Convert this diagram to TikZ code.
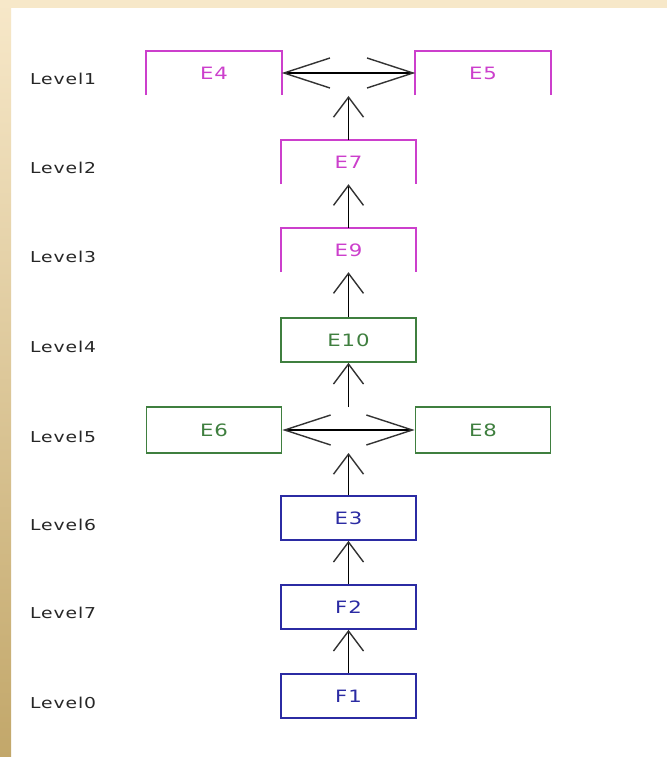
\documentclass[tikz,border=0pt]{standalone}
\usepackage{fontspec}
\setmainfont{DejaVu Sans}
\newfontfamily\boxfont[FakeStretch=1.25,LetterSpace=6]{DejaVu Sans}
\usetikzlibrary{arrows.meta}

\definecolor{bandlight}{HTML}{F7E8C9}
\definecolor{banddark}{HTML}{C2A76A}
\definecolor{lvmag}{HTML}{CC3FCC}
\definecolor{lvgreen}{HTML}{3F7F3F}
\definecolor{lvblue}{HTML}{2B2BA3}

\begin{document}
\begin{tikzpicture}[x=1pt,y=-1pt,
  every node/.style={inner sep=0pt},
  levellabel/.style={anchor=west, font=\boxfont\fontsize{15}{15}\selectfont, text=black!85},
  entity/.style={minimum width=135pt, minimum height=44pt, font=\boxfont\fontsize{17}{17}\selectfont},
  closedbox/.style={entity, draw, line width=1.8pt},
  openbox/.style={entity},
  barb/.tip={Straight Barb[length=20pt,width=30pt,line width=1.4pt,color=black!80]},
  longbarb/.tip={Straight Barb[length=46pt,width=30pt,line width=1.4pt,color=black!80]},
  upflow/.style={line width=1.8pt, -barb},
  sideflow/.style={line width=1.8pt, longbarb-longbarb},
]
\useasboundingbox (0,0) rectangle (667,757);
% page background with the gold frame on the left and top
\fill[white] (0,0) rectangle (667,757);
\shade[top color=bandlight, bottom color=banddark] (0,0) rectangle (11,757);
\fill[bandlight] (0,0) rectangle (667,8);

% level labels
\node[levellabel] (l1) at (30,79) {Level1};
\node[levellabel] (l2) at (30,168) {Level2};
\node[levellabel] (l3) at (30,257) {Level3};
\node[levellabel] (l4) at (30,347) {Level4};
\node[levellabel] (l5) at (30,437) {Level5};
\node[levellabel] (l6) at (30,525) {Level6};
\node[levellabel] (l7) at (30,613) {Level7};
\node[levellabel] (l0) at (30,703) {Level0};

% level 1: open boxes
\node[openbox, text=lvmag] (e4) at (214,73) {E4};
\node[openbox, text=lvmag] (e5) at (483,73) {E5};
% level 2 and 3: open boxes
\node[openbox, text=lvmag] (e7) at (348.5,162) {E7};
\node[openbox, text=lvmag] (e9) at (348.5,250) {E9};
\foreach \n in {e4,e5,e7,e9}
  \draw[lvmag, line width=1.8pt] (\n.south west) -- (\n.north west) -- (\n.north east) -- (\n.south east);

% level 4 and 5: green boxes
\node[closedbox, draw=lvgreen, text=lvgreen] (e10) at (348.5,340) {E10};
\node[closedbox, draw=lvgreen, text=lvgreen, minimum height=46pt] (e6) at (214,430) {E6};
\node[closedbox, draw=lvgreen, text=lvgreen, minimum height=46pt] (e8) at (483,430) {E8};

% levels 6, 7, 0: blue boxes
\node[closedbox, draw=lvblue, text=lvblue] (e3) at (348.5,518) {E3};
\node[closedbox, draw=lvblue, text=lvblue] (f2) at (348.5,607) {F2};
\node[closedbox, draw=lvblue, text=lvblue] (f1) at (348.5,696) {F1};

% free ends of the vertical flows between the side-by-side pairs
\coordinate (top1) at (348.5,96);
\coordinate (mid5top) at (348.5,407);
\coordinate (mid5bot) at (348.5,453);

% connectors
\draw[sideflow] (e4.east) -- (e5.west);
\draw[upflow] (e7.north) -- (top1);
\draw[upflow] (e9.north) -- (e7.south);
\draw[upflow] (e10.north) -- (e9.south);
\draw[upflow] (mid5top) -- (e10.south);
\draw[sideflow] (e6.east) -- (e8.west);
\draw[upflow] (e3.north) -- (mid5bot);
\draw[upflow] (f2.north) -- (e3.south);
\draw[upflow] (f1.north) -- (f2.south);
\end{tikzpicture}
\end{document}
